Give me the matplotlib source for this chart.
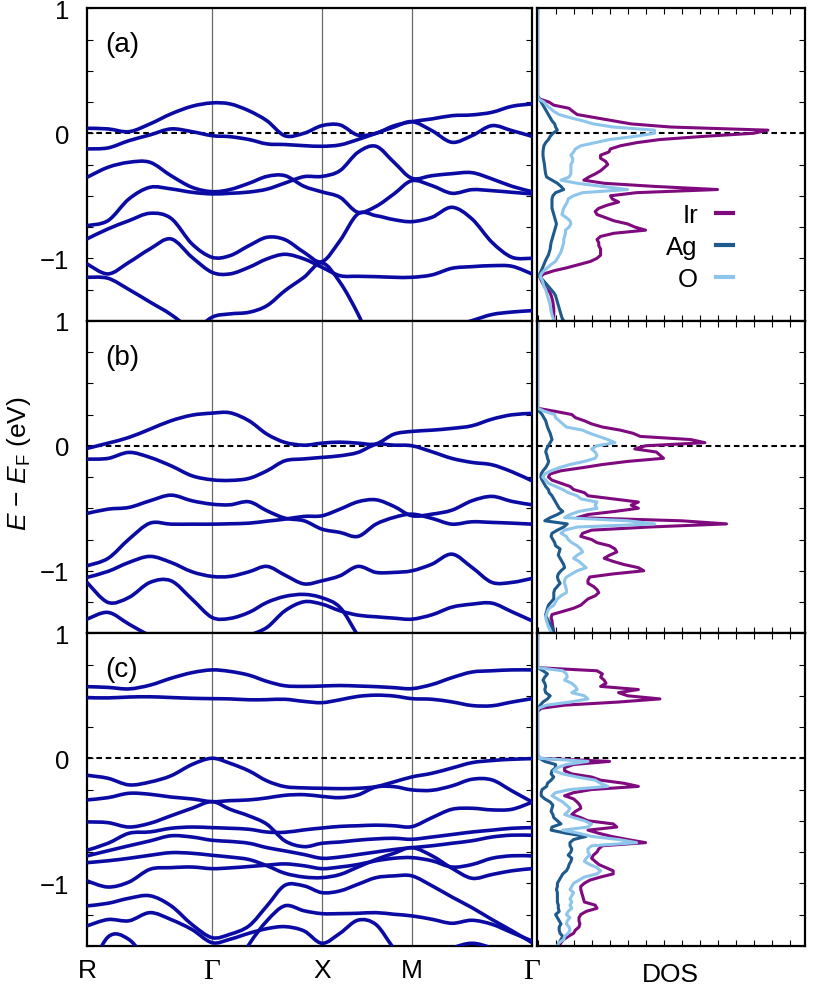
import numpy as np
import matplotlib.pyplot as plt
from matplotlib.path import Path
from matplotlib.patches import PathPatch

plt.rcParams['font.family'] = ['Liberation Sans', 'DejaVu Sans']
plt.rcParams['mathtext.fontset'] = 'custom'
plt.rcParams['mathtext.rm'] = 'Liberation Sans'
plt.rcParams['mathtext.it'] = 'Liberation Sans:italic'

# k-path R - G - X - M - G (distances)
k_ticks = [0.0, 1.25, 2.35, 3.25, 4.45]
k_labels = ['R', 'Γ', 'X', 'M', 'Γ']
k = [0.0, 0.21, 0.42, 0.63, 0.84, 1.05, 1.25,
     1.43, 1.62, 1.80, 1.98, 2.17, 2.35,
     2.53, 2.71, 2.89, 3.07, 3.25,
     3.45, 3.65, 3.85, 4.05, 4.25, 4.45]

# bands (eV), one row per band, sampled at k
bands_a = [
    [0.04, 0.035, 0.013, 0.075, 0.155, 0.216, 0.243, 0.235, 0.18, 0.10, -0.02, 0.0, 0.061, 0.067, -0.015, 0.0, 0.06, 0.093, 0.115, 0.141, 0.147, 0.168, 0.216, 0.235],
    [-0.125, -0.117, -0.059, -0.013, 0.035, 0.013, -0.019, -0.027, -0.05, -0.085, -0.09, -0.099, -0.104, -0.093, -0.05, 0.0, 0.05, 0.093, 0.021, -0.072, -0.019, 0.061, 0.021, -0.024],
    [-0.352, -0.272, -0.232, -0.232, -0.339, -0.432, -0.467, -0.45, -0.40, -0.345, -0.339, -0.424, -0.469, -0.512, -0.632, -0.585, -0.485, -0.379, -0.419, -0.48, -0.451, -0.459, -0.472, -0.485],
    [-0.739, -0.699, -0.525, -0.432, -0.445, -0.472, -0.485, -0.48, -0.47, -0.447, -0.398, -0.347, -0.345, -0.299, -0.152, -0.104, -0.232, -0.36, -0.339, -0.323, -0.315, -0.365, -0.424, -0.467],
    [-0.845, -0.765, -0.699, -0.64, -0.68, -0.885, -0.992, -0.979, -0.899, -0.832, -0.851, -0.952, -1.027, -0.859, -0.645, -0.659, -0.691, -0.707, -0.672, -0.592, -0.685, -0.872, -0.992, -1.0],
    [-1.045, -1.125, -1.032, -0.925, -0.845, -0.992, -1.112, -1.125, -1.072, -1.005, -0.968, -1.005, -1.072, -1.139, -1.144, -1.147, -1.152, -1.152, -1.133, -1.08, -1.067, -1.059, -1.064, -1.125],
    [-1.9, -1.9, -1.85, -1.8, -1.7, -1.6, -1.472, -1.445, -1.432, -1.379, -1.259, -1.152, -1.037, -1.192, -1.445, -1.75, -1.8, -1.75, -1.65, -1.55, -1.499, -1.45, -1.43, -1.419],
    [-1.152, -1.16, -1.25, -1.35, -1.45, -1.58, -1.7, -1.8, -1.9, -2.0, -2.0, -2.0, -2.0, -2.0, -2.0, -2.0, -2.0, -2.0, -2.0, -2.0, -2.0, -2.0, -2.0, -2.0],
]
bands_b = [
    [-0.021, 0.021, 0.067, 0.133, 0.2, 0.245, 0.261, 0.264, 0.2, 0.093, 0.027, 0.005, 0.021, 0.029, 0.021, 0.015, 0.093, 0.115, 0.125, 0.139, 0.16, 0.213, 0.248, 0.259],
    [-0.107, -0.101, -0.053, -0.093, -0.16, -0.24, -0.272, -0.277, -0.261, -0.2, -0.12, -0.105, -0.093, -0.08, -0.053, 0.011, 0.005, 0.0, -0.048, -0.101, -0.133, -0.152, -0.208, -0.28],
    [-0.541, -0.507, -0.493, -0.44, -0.395, -0.44, -0.467, -0.472, -0.448, -0.52, -0.579, -0.6, -0.667, -0.693, -0.725, -0.627, -0.573, -0.547, -0.581, -0.627, -0.608, -0.613, -0.619, -0.627],
    [-0.96, -0.901, -0.747, -0.619, -0.627, -0.627, -0.627, -0.624, -0.619, -0.603, -0.587, -0.565, -0.56, -0.507, -0.448, -0.432, -0.485, -0.56, -0.547, -0.515, -0.44, -0.405, -0.445, -0.472],
    [-1.053, -1.005, -0.933, -0.885, -0.933, -1.008, -1.045, -1.045, -1.008, -0.965, -1.035, -1.105, -1.08, -1.04, -0.965, -1.013, -1.013, -1.0, -0.947, -0.867, -0.973, -1.093, -1.093, -1.061],
    [-1.093, -1.253, -1.213, -1.093, -1.08, -1.227, -1.373, -1.381, -1.333, -1.253, -1.205, -1.189, -1.216, -1.293, -1.52, -1.75, -1.85, -1.9, -1.85, -1.8, -1.75, -1.7, -1.7, -1.7],
    [-1.387, -1.333, -1.427, -1.52, -1.6, -1.65, -1.65, -1.6, -1.52, -1.453, -1.32, -1.248, -1.267, -1.32, -1.355, -1.368, -1.379, -1.387, -1.352, -1.291, -1.267, -1.259, -1.328, -1.4],
]
bands_c = [
    [0.573, 0.567, 0.555, 0.585, 0.64, 0.685, 0.707, 0.695, 0.665, 0.615, 0.58, 0.575, 0.578, 0.582, 0.578, 0.573, 0.565, 0.557, 0.59, 0.645, 0.69, 0.70, 0.707, 0.707],
    [0.485, 0.483, 0.49, 0.492, 0.486, 0.48, 0.477, 0.475, 0.468, 0.469, 0.472, 0.455, 0.445, 0.468, 0.495, 0.505, 0.498, 0.477, 0.472, 0.451, 0.422, 0.42, 0.45, 0.477],
    [-0.136, -0.16, -0.213, -0.19, -0.14, -0.05, 0.0, -0.04, -0.101, -0.181, -0.227, -0.237, -0.24, -0.243, -0.24, -0.227, -0.189, -0.149, -0.12, -0.078, -0.035, -0.018, -0.008, -0.003],
    [-0.333, -0.315, -0.28, -0.288, -0.31, -0.325, -0.347, -0.339, -0.333, -0.317, -0.296, -0.291, -0.305, -0.315, -0.293, -0.23, -0.227, -0.253, -0.256, -0.221, -0.168, -0.173, -0.261, -0.349],
    [-0.736, -0.68, -0.60, -0.589, -0.56, -0.55, -0.555, -0.56, -0.568, -0.59, -0.592, -0.573, -0.558, -0.545, -0.54, -0.535, -0.54, -0.547, -0.475, -0.408, -0.40, -0.413, -0.408, -0.352],
    [-0.509, -0.515, -0.55, -0.52, -0.46, -0.40, -0.347, -0.408, -0.461, -0.528, -0.661, -0.707, -0.68, -0.67, -0.655, -0.645, -0.64, -0.648, -0.63, -0.61, -0.59, -0.575, -0.56, -0.555],
    [-0.781, -0.74, -0.70, -0.661, -0.62, -0.63, -0.656, -0.665, -0.68, -0.715, -0.741, -0.77, -0.80, -0.79, -0.77, -0.75, -0.73, -0.715, -0.70, -0.68, -0.66, -0.63, -0.615, -0.616],
    [-0.835, -0.82, -0.80, -0.776, -0.755, -0.76, -0.776, -0.79, -0.81, -0.86, -0.92, -0.95, -0.955, -0.93, -0.87, -0.81, -0.76, -0.715, -0.78, -0.88, -0.96, -0.93, -0.90, -0.883],
    [-0.981, -1.03, -0.99, -0.888, -0.875, -0.87, -0.883, -0.877, -0.866, -0.855, -0.845, -0.86, -0.883, -0.87, -0.85, -0.82, -0.80, -0.795, -0.82, -0.87, -0.85, -0.80, -0.78, -0.781],
    [-1.181, -1.16, -1.12, -1.10, -1.18, -1.33, -1.435, -1.408, -1.341, -1.181, -1.016, -1.021, -1.075, -1.061, -1.008, -0.955, -0.941, -0.941, -1.02, -1.11, -1.195, -1.29, -1.38, -1.475],
    [-1.341, -1.29, -1.30, -1.235, -1.29, -1.37, -1.475, -1.448, -1.40, -1.363, -1.347, -1.381, -1.48, -1.40, -1.295, -1.33, -1.52, -1.65, -1.6, -1.52, -1.48, -1.52, -1.6, -1.65],
    [-1.75, -1.43, -1.45, -1.65, -1.8, -1.85, -1.9, -1.75, -1.49, -1.30, -1.18, -1.22, -1.243, -1.243, -1.24, -1.235, -1.248, -1.261, -1.288, -1.32, -1.296, -1.328, -1.395, -1.461],
]

# DOS, read from E = 1.0 eV down to -1.5 eV in 0.025 eV steps (10 per row)
e_dos = np.linspace(1.0, -1.5, 101)

ir_a = [0, 0, 0, 0, 0, 0, 0, 0, 0, 0,
        0, 0, 0, 0, 0, 0, 0, 0, 0, 0,
        0, 0, 0, 0, 0, 0, 0, 0, 0, 0.1,
        0.63, 0.9, 1.74, 1.96, 2.2, 3.2, 4.2, 5.2, 7.4, 12.8,
        12.0, 9.2, 6.8, 5.5, 4.6, 4.05, 3.96, 3.5, 3.5, 3.78,
        3.9, 3.7, 3.5, 3.2, 2.85, 2.57, 3.7, 6.5, 10.0, 5.5,
        4.05, 4.15, 4.5, 3.87, 3.4, 3.2, 3.3, 3.78, 4.24, 5.0,
        5.4, 6.0, 4.24, 3.5, 3.3, 3.4, 3.4, 3.5, 3.5, 3.5,
        3.3, 2.94, 2.3, 1.65, 0.9, 0.35, 0.13, 0.2, 0.28, 0.39,
        0.54, 0.69, 0.76, 0.81, 0.85, 0.87, 0.9, 0.9, 0.9, 0.9,
        0.9]
ag_a = [0, 0, 0, 0, 0, 0, 0, 0, 0, 0,
        0, 0, 0, 0, 0, 0, 0, 0, 0, 0,
        0, 0, 0, 0, 0, 0, 0, 0, 0, 0.1,
        0.2, 0.3, 0.4, 0.5, 0.6, 0.7, 0.8, 0.95, 1.0, 1.1,
        0.85, 0.7, 0.6, 0.45, 0.35, 0.32, 0.3, 0.3, 0.32, 0.35,
        0.38, 0.4, 0.42, 0.45, 0.5, 0.8, 1.1, 1.3, 1.45, 1.0,
        0.85, 0.8, 0.8, 0.8, 0.8, 0.85, 0.9, 0.95, 1.0, 1.05,
        1.0, 0.95, 0.9, 0.85, 0.8, 0.75, 0.72, 0.7, 0.65, 0.6,
        0.5, 0.42, 0.35, 0.28, 0.2, 0.12, 0.12, 0.3, 0.45, 0.6,
        0.75, 0.9, 1.0, 1.05, 1.1, 1.15, 1.2, 1.25, 1.3, 1.35,
        1.45]
o_a = [0, 0, 0, 0, 0, 0, 0, 0, 0, 0,
       0, 0, 0, 0, 0, 0, 0, 0, 0, 0,
       0, 0, 0, 0, 0, 0, 0, 0, 0, 0.05,
       0.35, 0.5, 0.7, 0.9, 1.2, 1.8, 2.5, 3.1, 4.2, 6.5,
       6.5, 5.4, 4.0, 3.2, 2.4, 2.1, 2.0, 1.85, 1.95, 1.95,
       1.85, 1.85, 1.85, 1.85, 1.75, 1.3, 2.2, 3.6, 5.0, 2.5,
       2.0, 1.7, 1.65, 1.55, 1.45, 1.4, 1.35, 1.6, 1.8, 1.85,
       1.75, 1.55, 1.55, 1.5, 1.45, 1.45, 1.4, 1.35, 1.3, 1.2,
       1.1, 1.0, 0.75, 0.55, 0.35, 0.2, 0.15, 0.25, 0.3, 0.35,
       0.45, 0.5, 0.55, 0.6, 0.65, 0.7, 0.72, 0.75, 0.8, 0.85,
       0.9]

ir_b = [0, 0, 0, 0, 0, 0, 0, 0, 0, 0,
        0, 0, 0, 0, 0, 0, 0, 0, 0, 0,
        0, 0, 0, 0, 0, 0, 0, 0, 0, 1.0,
        1.9, 2.1, 2.6, 3.0, 3.6, 4.6, 5.3, 5.7, 8.5, 9.3,
        6.0, 5.4, 6.6, 6.8, 7.0, 5.0, 3.6, 2.5, 1.3, 0.7,
        0.6, 0.8, 1.3, 1.8, 2.0, 2.6, 2.8, 4.2, 5.6, 5.2,
        5.6, 4.3, 2.8, 2.2, 8.0, 10.5, 6.2, 3.0, 2.5, 2.4,
        3.0, 3.3, 4.0, 4.3, 4.4, 4.0, 3.7, 4.2, 4.8, 5.6,
        5.9, 4.2, 2.9, 2.8, 2.8, 3.1, 3.3, 3.4, 3.2, 2.8,
        2.6, 2.4, 2.0, 1.4, 0.8, 0.75, 0.8, 0.82, 0.85, 0.88,
        0.9]
ag_b = [0, 0, 0, 0, 0, 0, 0, 0, 0, 0,
        0, 0, 0, 0, 0, 0, 0, 0, 0, 0,
        0, 0, 0, 0, 0, 0, 0, 0, 0, 0.1,
        0.25, 0.35, 0.45, 0.5, 0.55, 0.62, 0.7, 0.75, 0.8, 0.7,
        0.6, 0.5, 0.45, 0.52, 0.55, 0.62, 0.55, 0.45, 0.3, 0.2,
        0.18, 0.25, 0.35, 0.45, 0.6, 0.65, 0.8, 0.9, 1.0, 1.1,
        1.2, 1.4, 1.1, 0.7, 0.4, 1.65, 1.45, 1.1, 0.8, 0.75,
        0.85, 0.95, 1.0, 1.25, 1.2, 1.15, 1.25, 1.35, 1.45, 1.5,
        1.3, 1.15, 1.1, 1.15, 1.25, 1.1, 0.95, 0.9, 0.9, 0.9,
        0.75, 0.6, 0.55, 0.5, 0.45, 0.5, 0.6, 0.7, 0.8, 0.85,
        0.9]
o_b = [0, 0, 0, 0, 0, 0, 0, 0, 0, 0,
       0, 0, 0, 0, 0, 0, 0, 0, 0, 0,
       0, 0, 0, 0, 0, 0, 0, 0, 0, 0.4,
       0.95, 1.0, 1.2, 1.4, 1.6, 2.5, 2.9, 3.4, 3.9, 4.3,
       3.3, 3.0, 3.2, 3.3, 3.2, 2.6, 1.8, 1.2, 0.75, 0.4,
       0.28, 0.45, 0.6, 1.0, 1.4, 1.7, 2.2, 2.4, 3.3, 3.2,
       3.3, 2.3, 1.8, 1.5, 5.0, 6.5, 2.2, 1.5, 1.3, 1.6,
       1.7, 1.9, 2.2, 2.4, 2.5, 2.2, 2.0, 2.3, 2.5, 2.7,
       2.2, 1.9, 1.6, 1.5, 1.5, 1.55, 1.6, 1.6, 1.3, 1.1,
       1.0, 0.9, 0.65, 0.55, 0.5, 0.45, 0.5, 0.55, 0.6, 0.7,
       0.8]

ir_c = [0, 0, 0, 0, 0, 0, 0, 0, 0, 0,
        0, 0, 3.3, 3.6, 3.5, 3.7, 3.8, 3.5, 5.6, 4.5,
        5.0, 6.8, 4.5, 1.5, 0.2, 0, 0, 0, 0, 0,
        0, 0, 0, 0, 0, 0, 0, 0, 0, 0,
        0.1, 4.0, 2.0, 1.5, 1.5, 1.9, 3.0, 3.5, 4.8, 5.6,
        3.0, 2.0, 1.5, 2.0, 2.2, 2.35, 2.4, 2.1, 1.9, 2.4,
        2.8, 4.2, 4.4, 2.8, 3.4, 4.1, 5.0, 6.0, 3.6, 3.4,
        3.3, 3.1, 3.0, 3.2, 3.4, 3.8, 4.2, 4.2, 3.5, 2.9,
        2.6, 2.4, 2.4, 2.45, 2.5, 2.55, 2.6, 3.2, 3.3, 2.7,
        2.4, 2.3, 2.3, 2.35, 2.3, 2.1, 2.0, 1.7, 1.45, 1.3,
        1.2]
ag_c = [0, 0, 0, 0, 0, 0, 0, 0, 0, 0,
        0, 0, 0.3, 0.55, 0.4, 0.3, 0.4, 0.45, 0.4, 0.45,
        0.7, 0.55, 0.3, 0.15, 0.05, 0, 0, 0, 0, 0,
        0, 0, 0, 0, 0, 0, 0, 0, 0, 0,
        0.1, 0.4, 1.0, 1.0, 0.8, 0.75, 0.9, 0.75, 0.55, 0.5,
        0.25, 0.2, 0.2, 0.4, 0.7, 0.85, 0.8, 0.75, 0.85, 0.9,
        1.1, 1.3, 0.8, 0.75, 1.6, 2.7, 2.0, 1.8, 1.8, 1.9,
        1.85, 1.7, 1.9, 1.85, 1.75, 1.7, 1.6, 1.4, 1.3, 1.2,
        1.1, 1.1, 1.05, 1.1, 1.1, 1.1, 1.1, 1.15, 1.15, 1.2,
        1.0, 1.1, 1.2, 1.3, 1.2, 1.2, 1.25, 1.4, 1.3, 1.2,
        1.1]
o_c = [0, 0, 0, 0, 0, 0, 0, 0, 0, 0,
       0, 0, 1.4, 1.6, 1.65, 1.5, 1.9, 2.1, 2.2, 1.9,
       2.6, 2.8, 1.8, 0.5, 0.05, 0, 0, 0, 0, 0,
       0, 0, 0, 0, 0, 0, 0, 0, 0, 0,
       0.1, 2.8, 1.6, 1.1, 0.9, 1.4, 2.2, 3.2, 3.5, 3.9,
       1.8, 1.0, 0.8, 1.1, 1.4, 1.6, 1.8, 1.7, 1.5, 2.0,
       2.6, 3.0, 2.8, 1.4, 2.3, 3.0, 4.5, 5.5, 3.0, 2.8,
       2.8, 2.9, 2.7, 2.6, 2.9, 3.3, 3.5, 3.3, 2.6, 2.3,
       2.0, 1.9, 1.8, 2.0, 1.9, 1.8, 1.9, 1.8, 1.9, 1.7,
       1.6, 1.8, 1.65, 1.6, 1.75, 1.8, 1.7, 1.5, 1.45, 1.2,
       1.1]

tags = ['(a)', '(b)', '(c)']
all_bands = [bands_a, bands_b, bands_c]
all_dos = [(ir_a, ag_a, o_a), (ir_b, ag_b, o_b), (ir_c, ag_c, o_c)]
species = ['Ir', 'Ag', 'O']

band_color = '#0b0ba3'
dos_colors = ['#7e0a7e', '#1f5a8c', '#8ec5ea']


def smooth_path(x, y):
    # curved (Catmull-Rom style) stroke through the read points
    x = np.asarray(x, float)
    y = np.asarray(y, float)
    n = len(x)
    verts = [(x[0], y[0])]
    codes = [Path.MOVETO]
    for j in range(n - 1):
        jp = max(j - 1, 0)
        jn = min(j + 2, n - 1)
        c1 = (x[j] + (x[j + 1] - x[jp]) / 6, y[j] + (y[j + 1] - y[jp]) / 6)
        c2 = (x[j + 1] - (x[jn] - x[j]) / 6, y[j + 1] - (y[jn] - y[j]) / 6)
        verts += [c1, c2, (x[j + 1], y[j + 1])]
        codes += [Path.CURVE4] * 3
    return Path(verts, codes)


yt = np.arange(-1.5, 1.001, 0.25)
ytl = ['1' if abs(v - 1) < 1e-6 else '0' if abs(v) < 1e-6
       else '\u22121' if abs(v + 1) < 1e-6 else '' for v in yt]

fig = plt.figure(figsize=(8.3, 10.04), dpi=100)
h = 0.31125
for i in range(3):
    bottom = 0.0570 + (2 - i) * h
    axb = fig.add_axes([0.1048, bottom, 0.5361, h])
    axd = fig.add_axes([0.6464, bottom, 0.3235, h])

    for kt in k_ticks[1:-1]:
        axb.axvline(kt, color='#6a6a6a', lw=0.9, zorder=1)
    axb.axhline(0, color='k', ls=(0, (2.7, 1.8)), lw=1.5, zorder=2)
    for b in all_bands[i]:
        axb.add_patch(PathPatch(smooth_path(k, b), fill=False,
                                edgecolor=band_color, lw=2.6, zorder=3,
                                capstyle='round', joinstyle='round'))
    axb.set_xlim(k_ticks[0], k_ticks[-1])
    axb.set_ylim(-1.5, 1.0)
    axb.set_yticks(yt)
    axb.set_yticklabels(ytl)
    axb.tick_params(axis='y', direction='in', left=True, right=True,
                    length=4.5, width=0.8, labelsize=18.5, pad=13)
    axb.set_xticks(k_ticks)
    axb.set_xticklabels(k_labels)
    axb.tick_params(axis='x', length=0, labelsize=19, pad=9,
                    labelbottom=(i == 2))
    for lab in axb.get_xticklabels():
        if lab.get_text() == 'Γ':
            lab.set_fontfamily('Liberation Serif')
            lab.set_fontsize(21)
    axb.text(0.04, 0.885, tags[i], transform=axb.transAxes,
             fontsize=20, va='center', ha='left')

    axd.axhline(0, color='k', ls=(0, (2.7, 1.8)), lw=1.5, zorder=1)
    for vals, col, name in zip(all_dos[i], dos_colors, species):
        axd.plot(vals, e_dos, color=col, lw=2.2, label=name, zorder=2)
    axd.set_xlim(-0.06, 14.86)
    axd.set_ylim(-1.5, 1.0)
    axd.set_xticks(np.arange(0, 15))
    axd.set_yticks(yt)
    axd.tick_params(axis='x', direction='in', top=True, bottom=True,
                    labelbottom=False, length=4.5, width=0.8)
    axd.tick_params(axis='y', direction='in', left=False, right=True,
                    labelleft=False, length=4.5, width=0.8)
    if i == 0:
        leg = axd.legend(loc='upper right', bbox_to_anchor=(0.73, 0.376),
                         markerfirst=False, frameon=False, handlelength=0.65,
                         handletextpad=0.7, labelspacing=0.3, fontsize=18.5,
                         borderaxespad=0, borderpad=0)
        for ln in leg.get_lines():
            ln.set_linewidth(3)
    if i == 2:
        axd.set_xlabel('DOS', fontsize=19, labelpad=12)

    for ax in (axb, axd):
        for sp in ax.spines.values():
            sp.set_linewidth(1.6)

fig.text(0.023, 0.538, '$E$ \u2212 $E_{\\rm F}$ (eV)',
         rotation=90, va='center', ha='center', fontsize=19)

fig.savefig('out.png', dpi=100)
